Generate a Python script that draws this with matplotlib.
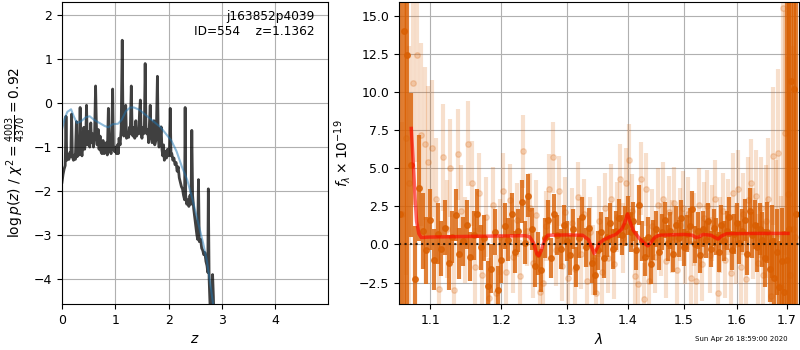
#!/usr/bin/env python3
"""
Figura de ajuste de redshift: log p(z) a la izquierda, espectro 1D a la derecha.
"""

import matplotlib
matplotlib.use("Agg")
import matplotlib.pyplot as plt
from matplotlib.ticker import NullLocator

# --- Panel izquierdo: log p(z) y prior suavizado ---
zgrid = [0.000, 0.020, 0.040, 0.060, 0.075, 0.090, 0.110, 0.130, 0.150, 0.165,
         0.180, 0.195, 0.215, 0.235, 0.250, 0.270, 0.285, 0.305, 0.320, 0.340,
         0.355, 0.375, 0.395, 0.410, 0.425, 0.445, 0.460, 0.475, 0.490, 0.505,
         0.520, 0.540, 0.555, 0.575, 0.590, 0.610, 0.630, 0.645, 0.660, 0.680,
         0.695, 0.715, 0.730, 0.750, 0.770, 0.790, 0.810, 0.830, 0.850, 0.870,
         0.885, 0.905, 0.920, 0.935, 0.950, 0.965, 0.985, 1.000, 1.020, 1.040,
         1.055, 1.070, 1.090, 1.110, 1.130, 1.145, 1.160, 1.180, 1.195, 1.210,
         1.230, 1.250, 1.265, 1.280, 1.300, 1.315, 1.330, 1.350, 1.365, 1.385,
         1.400, 1.420, 1.440, 1.455, 1.470, 1.485, 1.500, 1.515, 1.530, 1.545,
         1.560, 1.575, 1.590, 1.610, 1.625, 1.640, 1.655, 1.670, 1.690, 1.710,
         1.725, 1.740, 1.760, 1.775, 1.790, 1.805, 1.820, 1.840, 1.860, 1.875,
         1.890, 1.905, 1.920, 1.940, 1.960, 1.980, 2.000, 2.015, 2.030, 2.045,
         2.060, 2.080, 2.100, 2.120, 2.140, 2.160, 2.180, 2.200, 2.220, 2.240,
         2.260, 2.280, 2.300, 2.310, 2.320, 2.340, 2.360, 2.380, 2.400, 2.420,
         2.435, 2.450, 2.470, 2.490, 2.510, 2.530, 2.545, 2.560, 2.575, 2.600,
         2.620, 2.640, 2.660, 2.680, 2.700, 2.720, 2.735, 2.745, 2.760, 2.780,
         2.800, 2.815, 2.825, 2.840, 2.860, 2.900, 3.000]
logpz = [-1.80, -1.62, -1.50, -1.42, -0.30, -1.30, -1.18, -1.28, -1.12, -1.22,
         -0.25, -1.22, -1.30, -1.18, -1.28, -0.42, -1.22, -1.10, -1.18, -0.10,
         -1.02, -1.20, -0.92, -0.55, -1.05, -0.85, -0.05, -0.95, -0.80, -0.65,
         -1.00, -0.45, -0.90, -0.70, -1.00, -0.80, 0.39, -0.50, -0.95, -0.60,
         -1.05, -0.75, -1.10, -1.15, -0.85, -1.15, -1.12, -0.90, -1.18, -0.12,
         -1.10, -1.00, -1.15, -0.55, 0.32, -1.05, -1.10, -1.00, -1.15, -0.95,
         -1.15, -0.80, -0.95, -0.60, 1.43, -0.55, -0.75, -0.65, -0.05, -0.80,
         -0.70, -0.78, -0.55, -0.70, 0.39, -0.60, -0.75, -0.55, -0.80, -0.40,
         -0.75, -0.65, -0.70, -0.20, 0.07, -0.65, -0.80, -0.55, -0.70, -0.60,
         0.90, -0.55, -0.70, -0.60, -0.90, -0.45, -0.05, -0.75, -0.90, -0.85,
         -0.40, -0.95, -0.85, -0.35, 0.61, -0.75, -1.00, -0.90, -0.54, -1.05,
         -1.20, -0.95, -1.30, -1.10, -1.25, -1.05, -1.20, -1.10, -0.12, -1.20,
         -1.15, -1.30, -1.25, -1.40, -1.35, -1.55, -1.45, -1.70, -1.80, -1.90,
         -1.95, -2.10, -2.20, -0.10, -2.10, -2.30, -2.20, -2.35, -2.10, -2.30,
         -0.62, -2.10, -2.40, -2.60, -2.80, -3.00, -3.10, -1.74, -3.15, -3.10,
         -3.30, -3.35, -3.45, -3.40, -3.60, -3.70, -3.85, -1.95, -4.00, -4.70,
         -5.00, -4.50, -3.90, -4.40, -5.50, -7.00, -9.00]

zprior = [0.00, 0.05, 0.10, 0.17, 0.22, 0.28, 0.35, 0.45, 0.52, 0.60, 0.70,
          0.80, 0.87, 0.95, 1.05, 1.12, 1.20, 1.28, 1.35, 1.45, 1.55, 1.65,
          1.75, 1.85, 1.95, 2.05, 2.15, 2.25, 2.35, 2.45, 2.55, 2.65, 2.72,
          2.78, 2.85, 2.95]
logprior = [-0.60, -0.35, -0.20, -0.14, -0.30, -0.45, -0.42, -0.32, -0.30,
            -0.38, -0.45, -0.52, -0.55, -0.48, -0.47, -0.38, -0.18, -0.10,
            -0.10, -0.15, -0.25, -0.35, -0.45, -0.55, -0.70, -0.85, -1.10,
            -1.45, -1.75, -2.20, -2.70, -3.20, -3.60, -4.10, -4.70, -5.60]

# --- Panel derecho: espectro (dos orientaciones) y modelo ---
wave_a = [1.060, 1.065, 1.070, 1.075, 1.080, 1.085, 1.090, 1.095, 1.100, 1.105,
          1.110, 1.115, 1.120, 1.125, 1.130, 1.135, 1.140, 1.145, 1.150, 1.155,
          1.160, 1.165, 1.170, 1.175, 1.180, 1.185, 1.190, 1.195, 1.200, 1.205,
          1.210, 1.215, 1.220, 1.225, 1.230, 1.235, 1.240, 1.245, 1.250, 1.255,
          1.260, 1.265, 1.270, 1.275, 1.280, 1.285, 1.290, 1.295, 1.300, 1.305,
          1.310, 1.315, 1.320, 1.325, 1.330, 1.335, 1.340, 1.345, 1.350, 1.355,
          1.360, 1.365, 1.370, 1.375, 1.380, 1.385, 1.390, 1.395, 1.400, 1.405,
          1.410, 1.415, 1.420, 1.425, 1.430, 1.435, 1.440, 1.445, 1.450, 1.455,
          1.460, 1.465, 1.470, 1.475, 1.480, 1.485, 1.490, 1.495, 1.500, 1.505,
          1.510, 1.515, 1.520, 1.525, 1.530, 1.535, 1.540, 1.545, 1.550, 1.555,
          1.560, 1.565, 1.570, 1.575, 1.580, 1.585, 1.590, 1.595, 1.600, 1.605,
          1.610, 1.615, 1.620, 1.625, 1.630, 1.635, 1.640, 1.645, 1.650, 1.655,
          1.660, 1.665, 1.670, 1.675, 1.680, 1.685, 1.690, 1.695, 1.700, 1.705,
          1.710, 1.715, 1.720]
flux_a = [2.0, 14.0, 12.4, 5.2, -2.3, 3.7, 0.9, -0.4, 1.6, -1.0,
          0.7, -0.3, 1.1, -1.2, 0.5, 1.9, -0.6, 0.2, 1.3, -0.8,
          0.6, 2.0, -0.2, 0.4, -2.7, -1.6, 0.8, -3.0, -1.0, 1.2,
          0.3, 2.0, -0.5, 0.9, 2.8, 0.1, 3.2, 1.0, -1.4, -0.6,
          -1.7, 0.4, 1.6, -0.9, 2.0, 0.6, -0.3, 1.3, 0.2, -0.7,
          1.0, -1.5, 0.4, 1.8, -0.2, 1.1, -1.2, -2.0, -0.4, 0.8,
          -0.9, 0.5, 1.4, -0.3, 0.9, 1.7, 0.6, 1.2, 1.9, 0.8,
          1.5, -0.4, 2.6, 0.2, -0.8, 0.5, -1.3, 0.3, 1.0, -0.5,
          0.8, 1.6, 0.1, 0.9, -0.6, 1.3, 0.4, 1.7, -0.2, 0.7,
          1.2, 2.3, 0.0, 0.9, -0.7, 1.0, 0.3, 1.5, -0.3, 1.1,
          0.5, -0.5, 1.3, 0.2, 0.9, 1.8, -0.4, 0.7, 1.4, 0.1,
          0.9, 1.6, -0.6, 2.2, 0.6, 1.3, -0.2, 1.0, 0.3, -0.9,
          0.8, -1.6, 0.2, -2.2, -0.5, -2.8, -1.1, -3.1, -1.0, 1.0,
          10.7, 10.2, 2.0]
err_a = [30.0, 30.0, 30.0, 4.7, 3.5, 3.5, 2.5, 2.2, 2.0, 2.0,
         2.0, 1.8, 1.8, 1.8, 1.7, 1.7, 1.7, 1.6, 1.6, 1.6,
         1.6, 1.6, 1.5, 1.5, 1.6, 1.6, 1.5, 1.6, 1.5, 1.5,
         1.4, 1.4, 1.4, 1.4, 1.4, 1.4, 1.4, 1.4, 1.4, 1.4,
         1.4, 1.3, 1.3, 1.3, 1.3, 1.3, 1.3, 1.3, 1.3, 1.3,
         1.3, 1.3, 1.3, 1.3, 1.3, 1.3, 1.3, 1.3, 1.3, 1.3,
         1.3, 1.3, 1.3, 1.3, 1.3, 1.3, 1.3, 1.3, 1.3, 1.3,
         1.3, 1.3, 1.3, 1.3, 1.3, 1.3, 1.3, 1.3, 1.2, 1.2,
         1.2, 1.2, 1.2, 1.2, 1.2, 1.2, 1.2, 1.2, 1.2, 1.2,
         1.2, 1.2, 1.2, 1.2, 1.2, 1.2, 1.2, 1.2, 1.2, 1.2,
         1.2, 1.3, 1.3, 1.3, 1.3, 1.3, 1.3, 1.3, 1.3, 1.4,
         1.4, 1.4, 1.4, 1.5, 1.5, 1.6, 1.6, 1.7, 1.8, 1.9,
         2.0, 2.2, 2.4, 2.6, 2.8, 3.0, 3.5, 4.0, 30.0, 30.0,
         30.0, 30.0, 30.0]

wave_b = [1.0625, 1.0675, 1.0725, 1.0775, 1.0825, 1.0875, 1.0925, 1.0975,
          1.1025, 1.1075, 1.1125, 1.1175, 1.1225, 1.1275, 1.1325, 1.1375,
          1.1425, 1.1475, 1.1525, 1.1575, 1.1625, 1.1675, 1.1725, 1.1775,
          1.1825, 1.1875, 1.1925, 1.1975, 1.2025, 1.2075, 1.2125, 1.2175,
          1.2225, 1.2275, 1.2325, 1.2375, 1.2425, 1.2475, 1.2525, 1.2575,
          1.2625, 1.2675, 1.2725, 1.2775, 1.2825, 1.2875, 1.2925, 1.2975,
          1.3025, 1.3075, 1.3125, 1.3175, 1.3225, 1.3275, 1.3325, 1.3375,
          1.3425, 1.3475, 1.3525, 1.3575, 1.3625, 1.3675, 1.3725, 1.3775,
          1.3825, 1.3875, 1.3925, 1.3975, 1.4025, 1.4075, 1.4125, 1.4175,
          1.4225, 1.4275, 1.4325, 1.4375, 1.4425, 1.4475, 1.4525, 1.4575,
          1.4625, 1.4675, 1.4725, 1.4775, 1.4825, 1.4875, 1.4925, 1.4975,
          1.5025, 1.5075, 1.5125, 1.5175, 1.5225, 1.5275, 1.5325, 1.5375,
          1.5425, 1.5475, 1.5525, 1.5575, 1.5625, 1.5675, 1.5725, 1.5775,
          1.5825, 1.5875, 1.5925, 1.5975, 1.6025, 1.6075, 1.6125, 1.6175,
          1.6225, 1.6275, 1.6325, 1.6375, 1.6425, 1.6475, 1.6525, 1.6575,
          1.6625, 1.6675, 1.6725, 1.6775, 1.6825, 1.6875, 1.6925, 1.6975,
          1.7025, 1.7075, 1.7125, 1.7175]
flux_b = [2.0, 7.0, 4.0, 10.6, 12.4, 7.2, 6.6, 5.4, 6.3, 3.0,
          -2.9, 5.7, 1.0, 5.0, -3.0, 5.9, 2.2, 0.3, 6.6, 4.0,
          -1.5, 3.4, -2.0, 1.8, -3.5, 2.6, -3.2, 0.5, 3.5, -1.8,
          2.9, -0.8, 1.6, -2.1, 6.1, 0.9, 2.4, -1.2, 1.9, -3.1,
          -2.5, 1.2, 3.6, 5.7, -0.4, 3.5, -1.4, 2.1, -2.2, 1.4,
          -1.6, 3.1, -0.6, 2.0, -2.4, 0.8, -1.0, -3.2, 1.5, -1.8,
          2.4, -0.9, 3.0, -1.3, 1.8, 4.3, 0.4, 4.0, 5.5, 2.2,
          -2.1, -2.6, 4.3, -3.6, 3.6, -2.4, 1.2, -0.8, 2.6, 0.3,
          3.0, -1.1, 2.1, 0.5, 2.7, -1.7, 1.3, 2.4, -0.2, 2.0,
          -2.2, 1.0, -2.4, 2.6, -1.3, 1.7, 2.5, -0.7, 1.4, 3.0,
          -3.2, 0.6, 2.2, -1.0, 1.8, -1.9, 3.4, 0.0, 3.6, -1.5,
          2.0, -2.3, 2.9, 4.0, 0.7, 3.2, -1.2, 2.4, -2.0, 1.5,
          3.0, -3.4, 5.8, 0.5, 6.0, -2.8, 15.5, 7.3, 3.3, -2.0,
          1.0, 0.5]
err_b = [6.0, 9.0, 9.0, 8.0, 7.0, 6.0, 5.0, 5.0, 4.5, 4.0,
         3.5, 3.5, 3.2, 3.2, 3.0, 3.0, 3.0, 2.8, 2.8, 2.8,
         2.6, 2.6, 2.6, 2.6, 2.6, 2.5, 2.5, 2.5, 2.5, 2.4,
         2.4, 2.4, 2.4, 2.4, 2.4, 2.3, 2.3, 2.3, 2.3, 2.3,
         2.3, 2.3, 2.3, 2.3, 2.3, 2.3, 2.3, 2.3, 2.3, 2.3,
         2.3, 2.3, 2.3, 2.3, 2.3, 2.3, 2.3, 2.3, 2.3, 2.3,
         2.3, 2.3, 2.3, 2.3, 2.3, 2.3, 2.3, 2.3, 2.4, 2.4,
         2.4, 2.4, 2.4, 2.4, 2.4, 2.4, 2.4, 2.4, 2.4, 2.4,
         2.4, 2.4, 2.4, 2.4, 2.4, 2.4, 2.4, 2.4, 2.4, 2.4,
         2.4, 2.4, 2.4, 2.4, 2.4, 2.4, 2.4, 2.5, 2.5, 2.5,
         2.5, 2.5, 2.5, 2.5, 2.5, 2.6, 2.6, 2.6, 2.6, 2.7,
         2.7, 2.8, 2.8, 2.9, 3.0, 3.0, 3.2, 3.3, 3.5, 3.7,
         4.0, 4.3, 4.5, 5.0, 5.5, 6.0, 20.0, 8.0, 9.0, 12.0,
         12.0, 12.0]

wave_model = [1.075, 1.078, 1.080, 1.082, 1.085, 1.088, 1.100, 1.150, 1.200,
              1.235, 1.242, 1.248, 1.253, 1.256, 1.260, 1.265, 1.270, 1.300,
              1.325, 1.335, 1.340, 1.344, 1.348, 1.353, 1.360, 1.370, 1.380,
              1.390, 1.395, 1.400, 1.404, 1.410, 1.420, 1.428, 1.435, 1.440,
              1.447, 1.455, 1.500, 1.515, 1.522, 1.528, 1.535, 1.550, 1.558,
              1.564, 1.570, 1.580, 1.650, 1.703]
flux_model = [7.6, 5.0, 3.0, 1.5, 0.7, 0.45, 0.48, 0.52, 0.55,
              0.57, 0.50, 0.10, -0.60, -0.75, -0.40, 0.30, 0.60, 0.62,
              0.60, 0.30, -0.20, -0.60, -0.30, 0.10, 0.30, 0.50, 0.65,
              1.00, 1.40, 2.00, 1.50, 0.90, 0.40, 0.10, -0.10, 0.10,
              0.45, 0.60, 0.65, 0.60, 0.45, 0.50, 0.65, 0.60, 0.45,
              0.35, 0.55, 0.70, 0.72, 0.72]

wave_ticks = [1.1, 1.2, 1.3, 1.4, 1.5, 1.6, 1.7]

title_text = 'j163852p4039\nID=554    z=1.1362'
stamp_text = 'Sun Apr 26 18:59:00 2020'


def main():
    plt.rcParams['font.size'] = 9
    plt.rcParams['axes.labelsize'] = 10
    fig = plt.figure(figsize=(8, 3.5), dpi=100)

    # log p(z)
    ax = fig.add_axes([0.0775, 0.1314, 0.3325, 0.8629])
    ax.plot(zgrid, logpz, color='k', alpha=0.75, lw=2)
    ax.plot(zprior, logprior, color='#1f77b4', alpha=0.5, lw=1.5)
    ax.set_xlim(0, 4.99)
    ax.set_ylim(-4.57, 2.3)
    ax.set_xlabel('$z$')
    ax.set_ylabel(r'$\log p(z)$ / $\chi^2=\frac{4003}{4370}=0.92$')
    ax.grid(True)
    ax.text(0.95, 0.975, title_text, ha='right', va='top',
            fontsize=8.7, transform=ax.transAxes)

    # espectro
    ax = fig.add_axes([0.49875, 0.1314, 0.5, 0.8629])
    ax.errorbar(wave_b, flux_b, err_b, fmt='o', color='#d95f02', alpha=0.2,
                markersize=4, elinewidth=3, capsize=0)
    ax.errorbar(wave_a, flux_a, err_a, fmt='o', color='#d95f02', alpha=0.8,
                markersize=4, elinewidth=3, capsize=0)
    ax.plot(wave_model, flux_model, color='r', alpha=0.6, lw=2.5, zorder=5)
    ax.axhline(0, color='k', linestyle=':', lw=1.5, alpha=0.8, zorder=6)

    ax.set_xscale('log')
    ax.set_xticks(wave_ticks)
    ax.set_xticklabels([f'{t:.1f}' for t in wave_ticks])
    ax.xaxis.set_minor_locator(NullLocator())
    ax.set_xlim(1.059, 1.726)
    ax.set_ylim(-3.91, 15.89)
    ax.set_xlabel(r'$\lambda$')
    ax.set_ylabel(r'$f_\lambda\times10^{-19}$')
    ax.grid(True)

    fig.text(0.985, 0.03, stamp_text, ha='right', va='center', fontsize=5)

    fig.savefig('out.png', dpi=100)
    plt.close(fig)


if __name__ == '__main__':
    main()
